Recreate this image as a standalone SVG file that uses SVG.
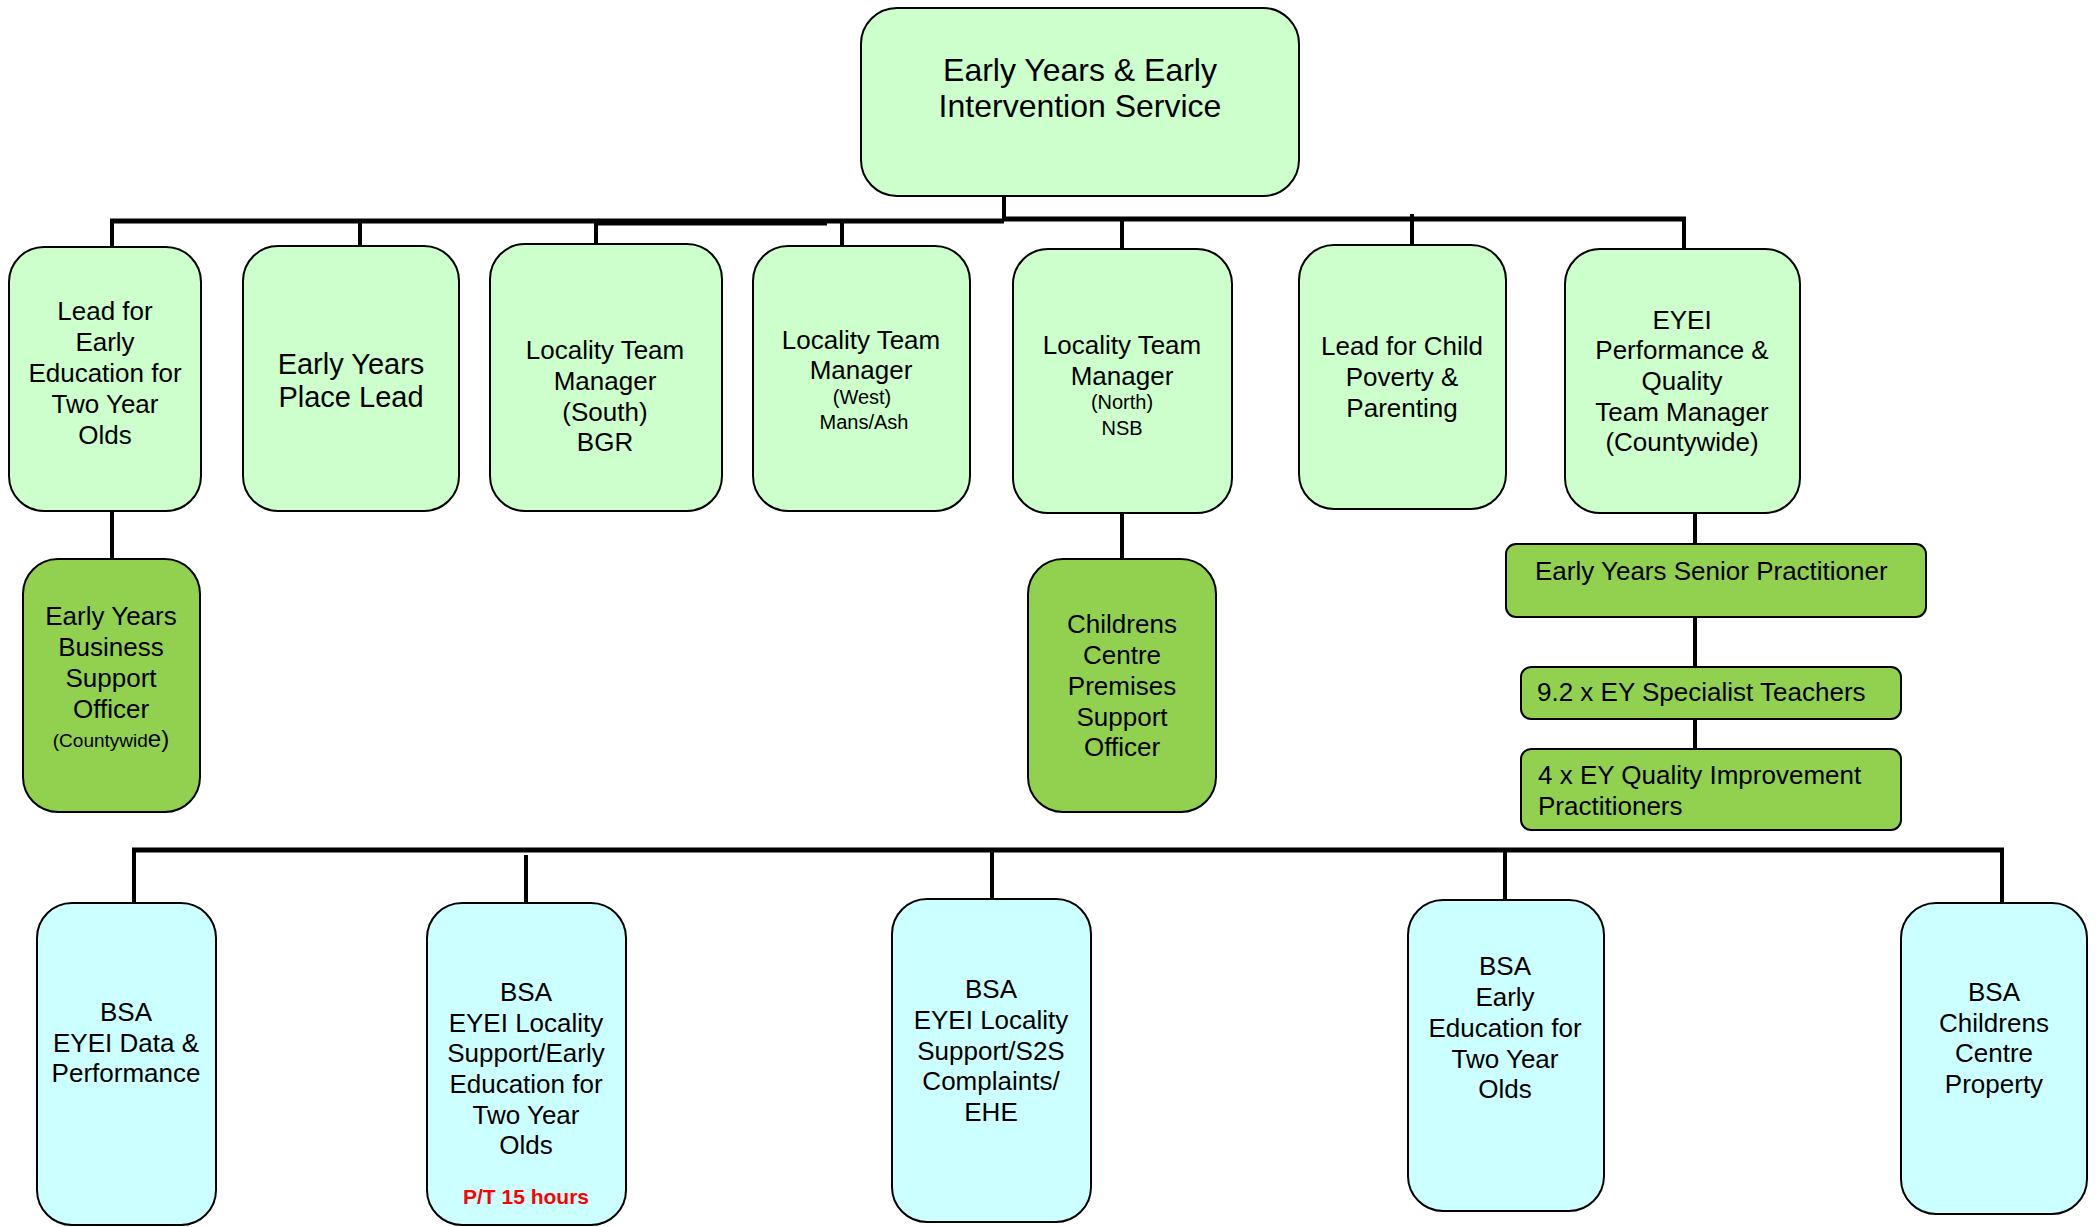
<svg xmlns="http://www.w3.org/2000/svg" width="2096" height="1227" viewBox="0 0 2096 1227">
<style>
text{font-family:"Liberation Sans",Arial,sans-serif;fill:#000;text-anchor:middle}
.t26{font-size:26px}
.t29{font-size:29px}
.t32{font-size:32px}
.s20{font-size:20px}
.left{text-anchor:start}
.red{fill:#FF0000;font-weight:bold;font-size:21px}
.n1{fill:#CCFFCC;stroke:#000;stroke-width:2}
.n2{fill:#92D050;stroke:#000;stroke-width:2}
.n3{fill:#CCFFFF;stroke:#000;stroke-width:2}
.bar{stroke:#000;stroke-width:5;fill:none}
.stem{stroke:#000;stroke-width:4;fill:none}
</style>
<rect width="2096" height="1227" fill="#fff"/>
<g id="connectors">
<line class="stem" x1="1004" y1="196" x2="1004" y2="221"/>
<line class="bar" x1="110" y1="221" x2="1004" y2="221"/>
<line class="bar" x1="1004" y1="219" x2="1686" y2="219"/>
<line class="stem" x1="596" y1="224" x2="827" y2="224" style="stroke-width:3"/>
<line class="stem" x1="112" y1="221" x2="112" y2="247"/>
<line class="stem" x1="360" y1="221" x2="360" y2="246"/>
<line class="stem" x1="596" y1="221" x2="596" y2="244"/>
<line class="stem" x1="842" y1="221" x2="842" y2="246"/>
<line class="stem" x1="1122" y1="219" x2="1122" y2="249"/>
<line class="stem" x1="1412" y1="214" x2="1412" y2="245"/>
<line class="stem" x1="1684" y1="219" x2="1684" y2="249"/>
<line class="stem" x1="112" y1="511" x2="112" y2="559"/>
<line class="stem" x1="1122" y1="513" x2="1122" y2="559"/>
<line class="stem" x1="1695" y1="513" x2="1695" y2="544"/>
<line class="stem" x1="1695" y1="617" x2="1695" y2="667"/>
<line class="stem" x1="1695" y1="719" x2="1695" y2="749"/>
<line class="bar" x1="132" y1="850" x2="2004" y2="850"/>
<line class="stem" x1="134" y1="848" x2="134" y2="902"/>
<line class="stem" x1="526" y1="855" x2="526" y2="902"/>
<line class="stem" x1="992" y1="848" x2="992" y2="898"/>
<line class="stem" x1="1505" y1="848" x2="1505" y2="900"/>
<line class="stem" x1="2002" y1="848" x2="2002" y2="904"/>
</g>
<g id="n-top">
<rect class="n1" x="861" y="8" width="438" height="188" rx="36"/>
<text class="t32"><tspan x="1080" y="81">Early Years &amp; Early</tspan><tspan x="1080" y="117">Intervention Service</tspan></text>
</g>
<g id="n-lead-ee2">
<rect class="n1" x="9" y="247" width="192" height="264" rx="35"/>
<text class="t26"><tspan x="105" y="320">Lead for</tspan><tspan x="105" y="351">Early</tspan><tspan x="105" y="382">Education for</tspan><tspan x="105" y="413">Two Year</tspan><tspan x="105" y="444">Olds</tspan></text>
</g>
<g id="n-place-lead">
<rect class="n1" x="243" y="246" width="216" height="265" rx="35"/>
<text class="t29"><tspan x="351" y="374">Early Years</tspan><tspan x="351" y="407">Place Lead</tspan></text>
</g>
<g id="n-south">
<rect class="n1" x="490" y="244" width="232" height="267" rx="35"/>
<text class="t26"><tspan x="605" y="359">Locality Team</tspan><tspan x="605" y="390">Manager</tspan><tspan x="605" y="421">(South)</tspan><tspan x="605" y="451">BGR</tspan></text>
</g>
<g id="n-west">
<rect class="n1" x="753" y="246" width="217" height="265" rx="35"/>
<text class="t26"><tspan x="861" y="349">Locality Team</tspan><tspan x="861" y="379">Manager</tspan></text>
<text class="s20"><tspan x="862" y="404">(West)</tspan><tspan x="864" y="429">Mans/Ash</tspan></text>
</g>
<g id="n-north">
<rect class="n1" x="1013" y="249" width="219" height="264" rx="35"/>
<text class="t26"><tspan x="1122" y="354">Locality Team</tspan><tspan x="1122" y="385">Manager</tspan></text>
<text class="s20"><tspan x="1122" y="409">(North)</tspan><tspan x="1122" y="435">NSB</tspan></text>
</g>
<g id="n-child-poverty">
<rect class="n1" x="1299" y="245" width="207" height="264" rx="35"/>
<text class="t26"><tspan x="1402" y="355">Lead for Child</tspan><tspan x="1402" y="386">Poverty &amp;</tspan><tspan x="1402" y="417">Parenting</tspan></text>
</g>
<g id="n-eyei-perf">
<rect class="n1" x="1565" y="249" width="235" height="264" rx="35"/>
<text class="t26"><tspan x="1682" y="329">EYEI</tspan><tspan x="1682" y="359">Performance &amp;</tspan><tspan x="1682" y="390">Quality</tspan><tspan x="1682" y="421">Team Manager</tspan><tspan x="1682" y="451">(Countywide)</tspan></text>
</g>
<g id="n-eybso">
<rect class="n2" x="23" y="559" width="177" height="253" rx="35"/>
<text class="t26"><tspan x="111" y="625">Early Years</tspan><tspan x="111" y="656">Business</tspan><tspan x="111" y="687">Support</tspan><tspan x="111" y="718">Officer</tspan></text>
<text x="111" y="747"><tspan style="font-size:19px">(Countywid</tspan><tspan style="font-size:24px">e)</tspan></text>
</g>
<g id="n-ccpso">
<rect class="n2" x="1028" y="559" width="188" height="253" rx="35"/>
<text class="t26"><tspan x="1122" y="633">Childrens</tspan><tspan x="1122" y="664">Centre</tspan><tspan x="1122" y="695">Premises</tspan><tspan x="1122" y="726">Support</tspan><tspan x="1122" y="756">Officer</tspan></text>
</g>
<g id="n-eysp">
<rect class="n2" x="1506" y="544" width="420" height="73" rx="10"/>
<text class="t26 left" x="1535" y="580">Early Years Senior Practitioner</text>
</g>
<g id="n-specialist">
<rect class="n2" x="1521" y="667" width="380" height="52" rx="10"/>
<text class="t26 left" x="1537" y="701">9.2 x EY Specialist Teachers</text>
</g>
<g id="n-quality">
<rect class="n2" x="1521" y="749" width="380" height="81" rx="10"/>
<text class="t26 left"><tspan x="1538" y="784">4 x EY Quality Improvement</tspan><tspan x="1538" y="815">Practitioners</tspan></text>
</g>
<g id="n-bsa-data">
<rect class="n3" x="37" y="903" width="179" height="322" rx="35"/>
<text class="t26"><tspan x="126" y="1021">BSA</tspan><tspan x="126" y="1052">EYEI Data &amp;</tspan><tspan x="126" y="1082">Performance</tspan></text>
</g>
<g id="n-bsa-locality-ee">
<rect class="n3" x="427" y="903" width="199" height="322" rx="35"/>
<text class="t26"><tspan x="526" y="1001">BSA</tspan><tspan x="526" y="1032">EYEI Locality</tspan><tspan x="526" y="1062">Support/Early</tspan><tspan x="526" y="1093">Education for</tspan><tspan x="526" y="1124">Two Year</tspan><tspan x="526" y="1154">Olds</tspan></text>
<text class="red" x="526" y="1204">P/T 15 hours</text>
</g>
<g id="n-bsa-s2s">
<rect class="n3" x="892" y="899" width="199" height="323" rx="35"/>
<text class="t26"><tspan x="991" y="998">BSA</tspan><tspan x="991" y="1029">EYEI Locality</tspan><tspan x="991" y="1060">Support/S2S</tspan><tspan x="991" y="1090">Complaints/</tspan><tspan x="991" y="1121">EHE</tspan></text>
</g>
<g id="n-bsa-ee2">
<rect class="n3" x="1408" y="900" width="196" height="311" rx="35"/>
<text class="t26"><tspan x="1505" y="975">BSA</tspan><tspan x="1505" y="1006">Early</tspan><tspan x="1505" y="1037">Education for</tspan><tspan x="1505" y="1068">Two Year</tspan><tspan x="1505" y="1098">Olds</tspan></text>
</g>
<g id="n-bsa-cc-property">
<rect class="n3" x="1901" y="903" width="186" height="311" rx="35"/>
<text class="t26"><tspan x="1994" y="1001">BSA</tspan><tspan x="1994" y="1032">Childrens</tspan><tspan x="1994" y="1062">Centre</tspan><tspan x="1994" y="1093">Property</tspan></text>
</g>
</svg>
